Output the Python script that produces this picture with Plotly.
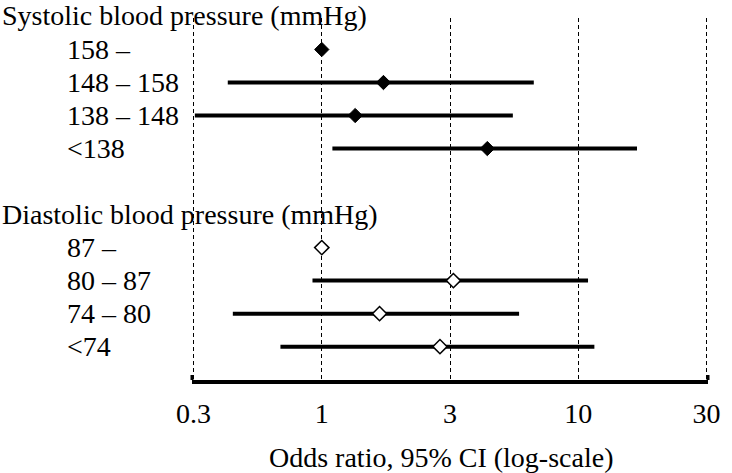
import plotly.graph_objects as go

# ---- data ----
sys_header = "Systolic blood pressure (mmHg)"
sys_labels = ["158 –", "148 – 158", "138 – 148", "<138"]
sys_or = [1.0, 1.74, 1.35, 4.42]
sys_lo = [None, 0.43, 0.32, 1.10]
sys_hi = [None, 6.71, 5.56, 16.95]

dia_header = "Diastolic blood pressure (mmHg)"
dia_labels = ["87 –", "80 – 87", "74 – 80", "<74"]
dia_or = [1.0, 3.26, 1.68, 2.89]
dia_lo = [None, 0.92, 0.45, 0.69]
dia_hi = [None, 10.92, 5.88, 11.56]

tick_vals = [10 ** -0.5, 1, 10 ** 0.5, 10, 10 ** 1.5]
tick_text = ["0.3", "1", "3", "10", "30"]
x_title = "Odds ratio, 95% CI (log-scale)"

gap = " "
rows = [sys_header] + sys_labels + [gap] + [dia_header] + dia_labels

FONT = "Liberation Serif, Times New Roman, serif"
FS = 28


def ci_xy(labels, lo, hi):
    xs, ys = [], []
    for lab, a, b in zip(labels, lo, hi):
        if a is None or b is None:
            continue
        xs += [a, b, None]
        ys += [lab, lab, None]
    return xs, ys


fig = go.Figure()

# invisible trace that registers every row category (incl. headers / gap)
fig.add_trace(go.Scatter(x=[1] * len(rows), y=rows, mode="markers",
                         marker=dict(opacity=0), hoverinfo="skip",
                         showlegend=False))

for labels, lo, hi in [(sys_labels, sys_lo, sys_hi), (dia_labels, dia_lo, dia_hi)]:
    xs, ys = ci_xy(labels, lo, hi)
    fig.add_trace(go.Scatter(x=xs, y=ys, mode="lines",
                             line=dict(color="black", width=4),
                             hoverinfo="skip", showlegend=False))

fig.add_trace(go.Scatter(x=sys_or, y=sys_labels, mode="markers",
                         marker=dict(symbol="diamond", size=11, color="black",
                                     line=dict(color="black", width=1)),
                         showlegend=False))
fig.add_trace(go.Scatter(x=dia_or, y=dia_labels, mode="markers",
                         marker=dict(symbol="diamond", size=11, color="white",
                                     line=dict(color="black", width=1.5)),
                         showlegend=False))

txt_font = dict(family=FONT, size=FS, color="black")
annotations = [
    # first header sits just above the plotting area
    dict(text=sys_header, xref="paper", x=0, xshift=-192, xanchor="left",
         yref="paper", y=1, yshift=3, yanchor="middle", showarrow=False,
         font=txt_font),
    dict(text=dia_header, xref="paper", x=0, xshift=-192, xanchor="left",
         yref="y", y=dia_header, yanchor="middle", showarrow=False,
         font=txt_font),
]
for lab in sys_labels + dia_labels:
    annotations.append(dict(text=lab, xref="paper", x=0, xshift=-127, xanchor="left",
                            yref="y", y=lab, yanchor="middle", showarrow=False,
                            font=txt_font))
annotations.append(dict(text=x_title, xref="paper", x=0.483, xanchor="center",
                        yref="paper", y=0, yshift=-77, yanchor="middle",
                        showarrow=False, font=txt_font))

# small up-ticks at both ends of the axis line
shapes = []
for xp in [0, 1]:
    shapes.append(dict(type="line", xref="paper", x0=xp, x1=xp,
                       yref="paper", ysizemode="pixel", yanchor=0, y0=0, y1=5,
                       line=dict(color="black", width=3)))

fig.update_layout(
    width=732, height=473,
    margin=dict(l=192, r=18, t=18, b=93),
    paper_bgcolor="white", plot_bgcolor="white",
    font=txt_font,
    showlegend=False,
    annotations=annotations,
    shapes=shapes,
    xaxis=dict(type="log", range=[-0.506, 1.506],
               tickvals=tick_vals, ticktext=tick_text,
               showgrid=True, gridcolor="black", gridwidth=1, griddash="4px,3px",
               showline=True, linecolor="black", linewidth=4,
               ticks="", zeroline=False, ticklabelstandoff=5,
               tickfont=txt_font),
    yaxis=dict(type="category", categoryorder="array", categoryarray=rows,
               range=[11.01, 0.046], showgrid=False, zeroline=False,
               showticklabels=False, ticks="", showline=False),
)

fig.write_html("out.html",
               config={"displayModeBar": False},
               post_script="document.body.style.margin='0';"
                           "document.body.style.overflow='hidden';")
